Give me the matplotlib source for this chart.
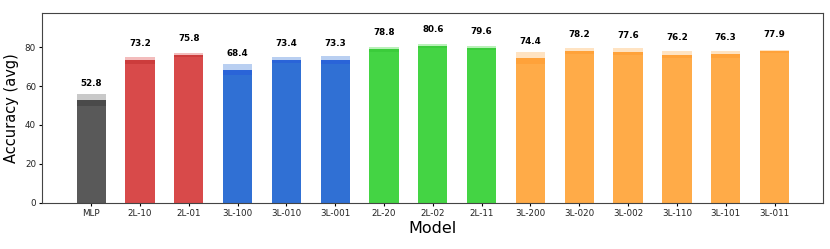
import matplotlib
matplotlib.use('Agg')
import matplotlib.pyplot as plt
import numpy as np

models = ['MLP', '2L-10', '2L-01', '3L-100', '3L-010', '3L-001', '2L-20', '2L-02',
          '2L-11', '3L-200', '3L-020', '3L-002', '3L-110', '3L-101', '3L-011']
acc_avg = [52.8, 73.2, 75.8, 68.4, 73.4, 73.3, 78.8, 80.6, 79.6, 74.4, 78.2, 77.6, 76.2, 76.3, 77.9]
acc_std = [3.1, 1.9, 1.0, 2.9, 1.4, 2.0, 1.4, 1.2, 1.1, 3.1, 1.5, 1.8, 2.0, 1.7, 0.8]
groups = ['mlp', '2l', '2l', '3l1', '3l1', '3l1', '2l2', '2l2', '2l2',
          '3l2', '3l2', '3l2', '3l2', '3l2', '3l2']

# (base, band, light) per group
palette = {
    'mlp': ('#595959', '#4a4a4a', '#c9c9c9'),
    '2l': ('#d84a4a', '#cc3c3c', '#f3bcbc'),
    '3l1': ('#3070d4', '#2a64d8', '#b9cff1'),
    '2l2': ('#44d444', '#3bcc3b', '#b9f1b9'),
    '3l2': ('#ffab48', '#ffa23a', '#ffe3c2'),
}

fig = plt.figure(figsize=(8.3, 2.49), dpi=100)
ax = fig.add_axes([0.051, 0.186, 0.941, 0.763])

x = np.arange(len(models))
w = 0.6
for i in range(len(models)):
    base, band, light = palette[groups[i]]
    m, s = acc_avg[i], acc_std[i]
    ax.bar(x[i], m + s, width=w, color=light, edgecolor='none')
    ax.bar(x[i], m, width=w, color=band, edgecolor='none')
    ax.bar(x[i], m - s, width=w, color=base, edgecolor='none')
    ax.text(x[i], m + 8.5, f'{m:.1f}', ha='center', va='center',
            fontsize=6.3, fontweight='bold')

ax.set_xlim(-1, 15)
ax.set_ylim(0, 97.7)
ax.set_xticks(x)
ax.set_xticklabels(models)
ax.set_yticks([0, 20, 40, 60, 80])
ax.tick_params(labelsize=6.3, length=2.5, width=0.8, pad=2, labelcolor='#222222')
ax.set_xlabel('Model', fontsize=11.5, labelpad=2)
ax.set_ylabel('Accuracy (avg)', fontsize=10.5, labelpad=4)
for sp in ax.spines.values():
    sp.set_color('#444444')
    sp.set_linewidth(0.8)

plt.savefig('out.png', dpi=100)
